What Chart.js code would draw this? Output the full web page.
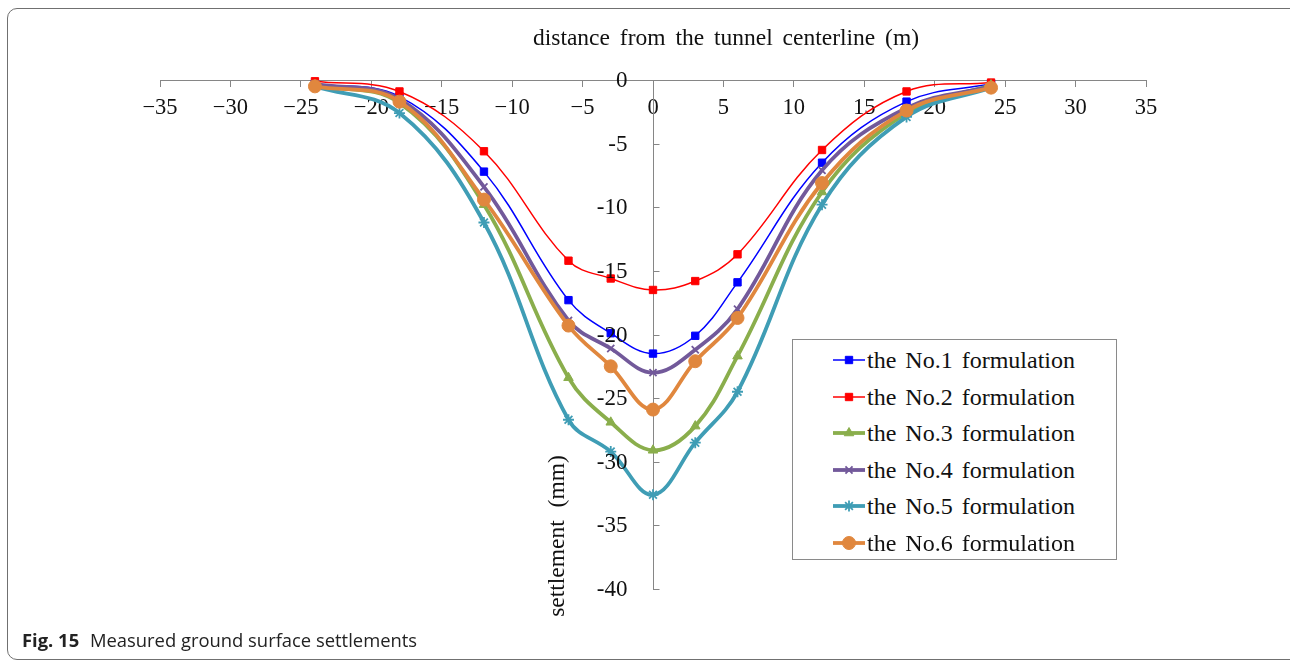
<!DOCTYPE html>
<html><head><meta charset="utf-8">
<script src="https://cdn.jsdelivr.net/npm/chart.js@4.4.1/dist/chart.umd.min.js"></script>
<style>
html,body{margin:0;padding:0;background:#fff;}
body{width:1290px;height:662px;overflow:hidden;position:relative;font-family:"Liberation Serif","DejaVu Serif",serif;}
#frame{position:absolute;left:7px;top:8px;width:1310px;height:652px;border:1.5px solid #707070;border-radius:10px;box-sizing:border-box;}
#wrap{position:absolute;left:0;top:0;width:1290px;height:662px;}
#xtitle{position:absolute;left:476px;width:500px;top:23px;height:28px;line-height:28px;text-align:center;font-size:23.5px;color:#111;word-spacing:4px;}
#ytitle{position:absolute;left:406px;top:522px;width:300px;height:28px;line-height:28px;text-align:center;font-size:23.5px;color:#111;transform:rotate(-90deg);word-spacing:7px;}
#caption{position:absolute;left:22px;top:627px;font-family:"Open Sans",sans-serif;font-size:18.4px;color:#222;white-space:nowrap;}
#caption b{font-weight:700;margin-right:6px;}
#legend{position:absolute;left:792px;top:339px;width:325px;height:221px;border:1px solid #8a8a8a;box-sizing:border-box;background:#fff;padding-top:2px;}
.row{height:36.5px;position:relative;}
.row canvas{position:absolute;left:38px;top:8px;}
.row span{position:absolute;left:74px;top:0;line-height:36.5px;font-size:24px;word-spacing:3px;color:#111;white-space:nowrap;}
</style></head>
<body>
<div id="frame"></div>
<div id="wrap"><canvas id="c" width="1290" height="662"></canvas></div>
<div id="xtitle">distance from the tunnel centerline (m)</div>
<div id="ytitle">settlement (mm)</div>
<div id="legend"></div>
<div id="caption"><b>Fig. 15</b> Measured ground surface settlements</div>
<script>
// distance from tunnel centerline (m)
const distances = [-24, -18, -12, -6, -3, 0, 3, 6, 12, 18, 24];
// settlement (mm)
const no1 = [-0.3, -1.3, -7.2, -17.3, -19.9, -21.5, -20.1, -15.9, -6.5, -1.7, -0.3];
const no2 = [-0.1, -0.9, -5.6, -14.2, -15.6, -16.5, -15.8, -13.7, -5.5, -0.9, -0.2];
const no3 = [-0.4, -1.8, -9.8, -23.4, -26.9, -29.1, -27.2, -21.7, -8.8, -2.6, -0.4];
const no4 = [-0.3, -1.5, -8.4, -18.9, -21.1, -23.0, -21.2, -18.0, -7.1, -2.2, -0.5];
const no5 = [-0.5, -2.6, -11.2, -26.7, -29.2, -32.6, -28.5, -24.5, -9.8, -2.9, -0.6];
const no6 = [-0.5, -1.7, -9.4, -19.3, -22.5, -25.9, -22.1, -18.7, -8.1, -2.4, -0.6];
const seriesNames = ["the No.1 formulation","the No.2 formulation","the No.3 formulation","the No.4 formulation","the No.5 formulation","the No.6 formulation"];
const xTicks = [-35,-30,-25,-20,-15,-10,-5,0,5,10,15,20,25,30,35];
const yTicks = [0,-5,-10,-15,-20,-25,-30,-35,-40];

Chart.defaults.font.family = '"Liberation Serif", "DejaVu Serif", serif';

const styles = [
  {color:'#0000FF', width:1.5, style:'rect', r:5.2},
  {color:'#FF0000', width:1.5, style:'rect', r:5.2},
  {color:'#8AAE4C', width:3.8, style:'triangle', r:5.5},
  {color:'#72599A', width:3.8, style:'crossRot', r:5},
  {color:'#3F9DB5', width:3.8, style:'star', r:5.5},
  {color:'#E0873E', width:3.8, style:'circle', r:6.5}
];
const allSeries = [no1,no2,no3,no4,no5,no6];
const datasets = allSeries.map((vals,i)=>({
  label: seriesNames[i],
  data: distances.map((x,j)=>({x:x, y:vals[j]})),
  showLine: true,
  borderColor: styles[i].color,
  backgroundColor: styles[i].color,
  borderWidth: styles[i].width,
  pointStyle: styles[i].style,
  pointRadius: styles[i].r,
  pointBorderWidth: (styles[i].style==='crossRot'||styles[i].style==='star') ? 1.8 : 1,
  pointBorderColor: styles[i].color,
  pointBackgroundColor: styles[i].color,
  tension: 0.38,
  clip: false,
  order: 5 - i
}));

// y axis (crossing at x = 0): tick marks to the right, labels to the left
const yAxisPlugin = {
  id:'yAxisDecor',
  afterDraw(chart){
    const ys = chart.scales.y, xs = chart.scales.x, ctx = chart.ctx;
    const x0 = Math.round(xs.getPixelForValue(0)) + 0.5;
    ctx.save();
    ctx.strokeStyle = '#868686'; ctx.lineWidth = 1;
    ctx.beginPath();
    yTicks.forEach(v=>{ if(v===0) return; const y = Math.round(ys.getPixelForValue(v))+0.5; ctx.moveTo(x0,y); ctx.lineTo(x0+6,y); });
    ctx.stroke();
    ctx.fillStyle = '#111';
    ctx.font = '23px "Liberation Serif", "DejaVu Serif", serif';
    ctx.textAlign = 'right'; ctx.textBaseline = 'middle';
    yTicks.forEach(v=>{ ctx.fillText(String(v), x0 - 26, ys.getPixelForValue(v) + 1); });
    ctx.restore();
  }
};

const chart = new Chart(document.getElementById('c'), {
  type:'scatter',
  data:{datasets},
  plugins:[yAxisPlugin],
  options:{
    responsive:false, animation:false,
    layout:{padding:{left:160, right:144, top:80, bottom:73}},
    plugins:{legend:{display:false}, tooltip:{enabled:false}},
    scales:{
      x:{
        type:'linear', min:-35, max:35, position:{y:0},
        afterBuildTicks: s => { s.ticks = xTicks.map(v=>({value:v})); },
        ticks:{ padding:9, color:'#111', font:{family:'"Liberation Serif", "DejaVu Serif", serif', size:22.5},
          callback: v => v < 0 ? '\u2212' + Math.abs(v) : String(v), maxRotation:0, autoSkip:false },
        grid:{ drawOnChartArea:false, drawTicks:true, tickLength:6, color:'#868686' },
        border:{ display:true, color:'#868686', width:1 }
      },
      y:{
        type:'linear', min:-40, max:0, position:{x:0},
        afterBuildTicks: s => { s.ticks = yTicks.map(v=>({value:v})); },
        ticks:{ display:false },
        grid:{ display:false, drawOnChartArea:false, drawTicks:false },
        border:{ display:true, color:'#868686', width:1 }
      }
    }
  }
});

// legend built from the datasets
const legendEl = document.getElementById('legend');
datasets.forEach((ds)=>{
  const row = document.createElement('div'); row.className='row';
  const cv = document.createElement('canvas'); cv.width=36; cv.height=20;
  const ctx = cv.getContext('2d');
  ctx.strokeStyle = ds.borderColor; ctx.fillStyle = ds.backgroundColor;
  ctx.lineWidth = ds.borderWidth;
  ctx.beginPath(); ctx.moveTo(2,10); ctx.lineTo(34,10); ctx.stroke();
  ctx.lineWidth = ds.pointBorderWidth;
  if (Chart.helpers && Chart.helpers.drawPoint) {
    Chart.helpers.drawPoint(ctx, {pointStyle: ds.pointStyle, radius: ds.pointRadius, rotation:0, borderWidth: ds.pointBorderWidth}, 18, 10);
  }
  const sp = document.createElement('span'); sp.textContent = ds.label;
  row.appendChild(cv); row.appendChild(sp); legendEl.appendChild(row);
});
</script>
</body></html>
